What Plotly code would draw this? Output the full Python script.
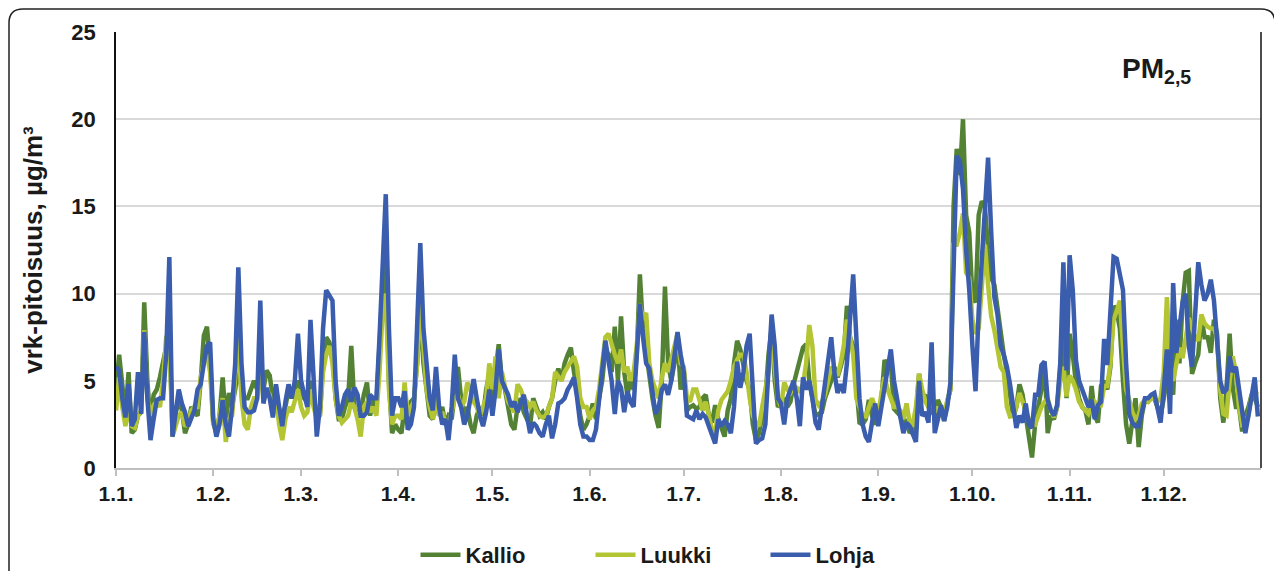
import pandas as pd
import plotly.graph_objects as go

# ---- data (daily PM2.5, µg/m3) ----
kallio_jan = [4.5, 6.5, 4.8, 3.0, 5.5, 2.0, 2.2, 3.0, 3.2, 9.5, 5.0, 2.5, 4.2, 4.5, 5.2, 6.0, 6.8, 7.8, 2.2, 3.0, 4.0, 3.3, 2.0, 2.5, 3.5, 3.2, 3.0, 5.0, 7.6, 8.1, 6.0]
kallio_feb = [2.6, 2.0, 3.0, 5.2, 2.7, 4.3, 3.5, 4.5, 6.0, 4.5, 4.0, 4.0, 4.5, 5.0, 4.5, 5.5, 4.5, 5.6, 5.3, 4.0, 4.6, 3.0, 3.2, 3.5, 4.5, 4.0, 4.5, 5.0]
kallio_mar = [4.5, 4.0, 3.8, 5.0, 4.0, 3.2, 3.0, 6.0, 7.5, 7.2, 6.5, 4.0, 2.8, 2.8, 3.5, 4.0, 7.0, 3.5, 3.0, 3.2, 4.2, 4.9, 3.0, 4.0, 3.5, 6.5, 10.5, 12.0, 5.0, 2.0, 2.5]
kallio_apr = [2.2, 2.0, 3.5, 2.5, 3.8, 4.0, 6.0, 9.0, 6.0, 4.5, 3.0, 2.8, 4.0, 3.0, 3.5, 2.5, 3.0, 2.8, 4.5, 5.8, 4.0, 3.0, 3.5, 2.5, 2.0, 3.0, 3.5, 3.0, 4.5, 5.4]
kallio_may = [4.0, 5.5, 7.1, 5.0, 4.5, 3.5, 2.5, 2.2, 3.5, 4.0, 3.2, 2.8, 2.4, 4.0, 3.5, 3.0, 3.2, 2.8, 3.5, 4.0, 5.0, 5.7, 5.0, 6.0, 6.5, 6.9, 5.5, 4.5, 3.0, 2.2, 2.5]
kallio_jun = [3.0, 3.7, 2.8, 4.0, 5.0, 6.8, 6.5, 5.5, 8.1, 5.0, 8.7, 5.5, 4.2, 5.0, 4.5, 6.5, 11.1, 8.0, 6.5, 5.5, 4.0, 3.0, 2.3, 5.0, 10.4, 6.0, 5.0, 6.0, 7.5, 4.5]
kallio_jul = [5.5, 3.3, 3.5, 3.6, 3.4, 3.5, 4.0, 4.2, 3.0, 2.6, 3.6, 2.8, 2.2, 1.8, 3.3, 4.0, 6.0, 7.3, 6.8, 6.0, 5.0, 4.5, 2.5, 1.6, 2.0, 3.0, 4.0, 6.5, 8.0, 5.0, 3.5]
kallio_aug = [3.7, 4.0, 3.5, 3.8, 4.8, 5.5, 6.0, 6.9, 7.1, 5.0, 4.0, 3.0, 3.1, 3.2, 4.0, 4.5, 5.0, 5.8, 5.2, 5.8, 6.5, 9.3, 7.5, 7.0, 4.5, 2.6, 2.5, 2.8, 3.9, 3.0, 2.5]
kallio_sep = [3.0, 3.9, 6.2, 5.8, 6.0, 3.4, 3.2, 3.0, 2.4, 2.8, 2.0, 2.2, 3.0, 5.4, 4.0, 4.2, 3.5, 3.2, 3.0, 3.9, 3.5, 2.7, 3.8, 4.5, 15.0, 18.3, 16.8, 20.0, 14.5, 13.5]
kallio_oct = [9.8, 9.5, 14.5, 15.3, 15.0, 12.5, 10.9, 10.5, 9.0, 8.0, 6.5, 5.5, 4.0, 2.9, 3.5, 4.8, 4.2, 3.0, 2.0, 0.6, 2.5, 3.5, 4.5, 6.1, 2.0, 3.0, 2.8, 3.5, 6.0, 7.7, 4.0]
kallio_nov = [7.7, 6.5, 4.9, 4.0, 3.5, 3.3, 2.5, 4.7, 3.0, 2.6, 4.7, 5.0, 4.5, 5.8, 9.3, 9.0, 8.0, 5.0, 2.5, 1.4, 2.5, 4.0, 1.2, 3.0, 3.9, 3.8, 4.0, 4.0, 3.5, 3.0]
kallio_dec = [4.0, 5.1, 5.0, 4.2, 8.5, 6.0, 9.5, 11.2, 11.3, 5.4, 6.0, 6.5, 8.7, 7.5, 7.5, 6.6, 8.5, 7.7, 4.0, 2.6, 4.5, 7.7, 4.6, 3.5, 3.5, 2.1, 3.0, 3.5, 4.2, 4.0, 3.5]

luukki_jan = [3.3, 5.2, 3.5, 2.4, 3.5, 2.4, 2.3, 3.0, 3.3, 7.9, 4.0, 3.0, 3.6, 3.8, 3.5, 5.0, 7.5, 7.7, 1.8, 2.5, 3.0, 3.2, 2.4, 2.6, 3.3, 3.5, 3.5, 5.2, 6.0, 6.5, 5.5]
luukki_feb = [2.5, 2.2, 3.0, 4.0, 1.5, 2.8, 3.0, 5.0, 7.5, 4.0, 2.5, 2.2, 3.5, 4.0, 4.0, 6.0, 3.8, 4.5, 4.2, 3.0, 4.0, 2.5, 1.6, 2.8, 3.5, 3.2, 3.8, 4.5]
luukki_mar = [3.5, 3.0, 3.2, 4.5, 3.5, 2.8, 3.0, 5.5, 6.5, 7.0, 6.0, 4.0, 3.0, 2.6, 2.8, 3.0, 3.8, 3.5, 2.8, 1.8, 3.5, 3.8, 3.2, 3.5, 3.0, 5.5, 9.0, 10.0, 4.5, 2.5, 3.0]
luukki_apr = [3.0, 2.8, 4.9, 3.0, 3.5, 3.8, 6.0, 9.5, 6.5, 4.5, 3.5, 2.8, 4.0, 3.0, 3.2, 2.6, 2.5, 3.2, 4.0, 4.2, 3.5, 3.8, 4.9, 4.5, 3.8, 3.5, 3.0, 3.5, 4.0, 6.0]
luukki_may = [4.5, 6.4, 4.0, 5.5, 4.5, 3.8, 3.5, 3.2, 4.8, 4.5, 4.0, 3.8, 3.5, 3.8, 3.3, 3.0, 2.9, 3.0, 3.5, 4.0, 5.5, 5.2, 5.0, 5.5, 5.8, 6.0, 6.4, 5.8, 4.0, 3.5, 3.5]
luukki_jun = [2.8, 3.3, 3.5, 4.5, 6.0, 7.5, 7.7, 7.0, 6.5, 6.0, 6.8, 5.5, 5.8, 5.0, 5.5, 7.0, 9.4, 8.5, 8.9, 6.0, 5.0, 4.5, 4.0, 5.2, 6.0, 5.5, 6.2, 7.0, 7.7, 6.0]
luukki_jul = [5.8, 4.0, 3.8, 4.5, 4.5, 3.9, 3.3, 3.8, 3.0, 2.2, 2.0, 3.3, 3.9, 4.2, 4.4, 5.0, 5.8, 6.2, 6.5, 6.5, 5.5, 4.0, 3.0, 2.6, 2.4, 3.5, 4.5, 5.5, 7.5, 5.5, 4.0]
luukki_aug = [3.5, 4.9, 4.5, 4.3, 4.6, 4.6, 4.4, 4.8, 6.0, 8.2, 7.0, 3.9, 3.6, 3.8, 4.2, 5.0, 5.8, 5.5, 5.3, 6.0, 7.0, 8.5, 7.5, 6.5, 4.0, 3.5, 3.0, 2.95, 3.5, 4.0, 3.5]
luukki_sep = [3.0, 4.3, 5.2, 4.5, 4.0, 3.5, 3.5, 3.3, 2.8, 3.7, 2.6, 2.5, 3.5, 5.4, 4.5, 3.8, 3.5, 4.0, 3.2, 3.5, 3.0, 2.95, 3.9, 4.5, 12.8, 12.8, 13.5, 14.6, 11.2, 10.9]
luukki_oct = [8.5, 7.7, 8.0, 10.8, 12.8, 10.5, 8.7, 7.9, 7.0, 5.8, 5.5, 3.5, 2.95, 3.0, 3.5, 4.3, 3.8, 3.2, 2.8, 2.6, 2.5, 3.0, 3.5, 3.8, 4.0, 3.3, 2.9, 3.5, 5.0, 5.8, 4.1]
luukki_nov = [5.3, 5.0, 4.5, 3.8, 3.5, 3.3, 3.1, 3.5, 3.8, 3.6, 3.6, 4.7, 4.7, 6.0, 8.5, 9.0, 9.6, 7.0, 4.5, 3.9, 3.2, 2.8, 3.0, 3.7, 3.9, 3.8, 4.0, 4.0, 3.8, 4.0]
luukki_dec = [5.5, 9.8, 6.0, 5.0, 6.0, 6.9, 6.3, 7.5, 8.6, 8.0, 7.5, 7.3, 8.8, 8.3, 8.1, 8.0, 8.0, 7.5, 4.5, 3.1, 3.0, 5.0, 6.4, 5.5, 3.5, 2.5, 2.6, 3.0, 4.2, 4.3, 4.4]

lohja_jan = [5.8, 5.6, 4.0, 2.9, 4.8, 2.4, 2.8, 5.5, 3.1, 7.8, 4.0, 1.6, 2.8, 3.9, 4.0, 4.0, 6.5, 12.1, 1.8, 3.0, 4.5, 3.7, 3.2, 2.4, 2.8, 3.3, 4.5, 4.8, 6.0, 7.0, 7.2]
lohja_feb = [2.8, 1.8, 2.5, 3.9, 2.5, 1.8, 3.5, 6.0, 11.5, 6.0, 3.5, 3.2, 3.2, 3.3, 4.0, 9.6, 3.7, 4.6, 4.0, 2.9, 4.8, 3.5, 2.4, 3.8, 4.8, 4.0, 5.0, 7.7]
lohja_mar = [5.0, 4.2, 3.5, 8.5, 4.5, 1.8, 3.5, 8.0, 10.2, 9.9, 9.6, 5.0, 3.0, 3.5, 4.2, 4.5, 3.8, 4.6, 4.2, 3.0, 3.0, 3.2, 4.2, 4.0, 4.0, 7.5, 11.5, 15.7, 8.0, 3.0, 4.0]
lohja_apr = [4.0, 3.5, 4.4, 2.2, 2.5, 3.5, 8.0, 12.9, 8.0, 5.8, 4.0, 3.3, 5.8, 3.5, 2.5, 2.8, 1.6, 3.5, 6.5, 4.0, 3.5, 2.5, 3.0, 4.0, 5.1, 4.0, 3.0, 2.4, 3.2, 4.5]
lohja_may = [3.0, 4.5, 6.8, 5.0, 4.6, 4.2, 3.5, 3.8, 3.2, 3.8, 4.2, 3.0, 2.0, 2.6, 2.4, 2.0, 1.8, 2.5, 3.0, 1.7, 2.5, 3.7, 3.8, 4.0, 4.5, 4.8, 5.2, 4.0, 2.5, 1.8, 1.8]
lohja_jun = [1.6, 1.6, 2.2, 3.7, 5.6, 7.3, 6.0, 5.0, 3.1, 5.0, 4.6, 3.2, 4.4, 3.8, 3.5, 6.5, 9.4, 7.5, 6.0, 5.7, 4.5, 3.1, 3.5, 4.5, 4.8, 4.2, 5.0, 6.5, 7.8, 6.5]
lohja_jul = [5.5, 3.0, 2.9, 2.8, 3.3, 2.8, 3.1, 2.9, 2.4, 1.8, 1.4, 2.8, 2.4, 2.7, 2.5, 2.0, 3.5, 6.1, 4.6, 5.5, 7.0, 7.7, 4.5, 1.4, 1.6, 1.7, 2.5, 6.0, 8.8, 7.0, 4.0]
lohja_aug = [3.7, 2.5, 4.0, 4.5, 5.0, 4.0, 2.4, 5.2, 4.5, 5.0, 4.0, 2.6, 2.2, 3.5, 5.0, 6.5, 7.5, 5.5, 4.3, 4.8, 4.3, 6.0, 9.0, 11.1, 7.5, 4.0, 2.5, 1.8, 1.5, 2.8, 3.7]
lohja_sep = [2.4, 3.5, 4.7, 5.5, 6.8, 5.0, 3.8, 2.95, 2.0, 2.6, 2.4, 2.0, 1.5, 5.0, 3.0, 3.2, 2.6, 7.2, 2.0, 2.8, 3.6, 2.7, 3.5, 4.9, 11.0, 17.9, 17.6, 16.0, 12.5, 10.2]
lohja_oct = [7.0, 4.4, 9.0, 12.0, 14.4, 17.8, 13.5, 9.8, 8.8, 7.0, 6.5, 5.8, 4.8, 3.5, 2.3, 3.0, 2.6, 3.7, 2.5, 2.3, 4.2, 4.2, 5.9, 6.1, 3.9, 3.3, 3.0, 3.6, 6.0, 11.8, 5.6]
lohja_nov = [12.2, 10.2, 6.2, 5.0, 4.5, 3.9, 3.5, 3.9, 2.8, 3.6, 3.8, 7.4, 5.9, 9.0, 12.1, 12.0, 11.0, 10.2, 6.0, 3.1, 2.6, 2.4, 2.4, 3.2, 4.0, 4.0, 4.2, 4.3, 3.5, 2.6]
lohja_dec = [4.5, 6.8, 3.1, 10.6, 6.6, 8.0, 9.5, 10.0, 7.0, 5.8, 9.0, 11.8, 10.5, 9.6, 10.0, 10.8, 9.6, 7.0, 5.0, 4.3, 4.5, 6.4, 5.5, 5.8, 4.5, 3.1, 2.0, 3.0, 4.0, 5.2, 2.95]

tick_text = ["1.1.", "1.2.", "1.3.", "1.4.", "1.5.", "1.6.", "1.7.", "1.8.", "1.9.", "1.10.", "1.11.", "1.12."]
series_names = ["Kallio", "Luukki", "Lohja"]
series_colors = ["#548235", "#B4C534", "#3A5DAE"]

kallio = (kallio_jan + kallio_feb + kallio_mar + kallio_apr + kallio_may + kallio_jun +
          kallio_jul + kallio_aug + kallio_sep + kallio_oct + kallio_nov + kallio_dec)
luukki = (luukki_jan + luukki_feb + luukki_mar + luukki_apr + luukki_may + luukki_jun +
          luukki_jul + luukki_aug + luukki_sep + luukki_oct + luukki_nov + luukki_dec)
lohja = (lohja_jan + lohja_feb + lohja_mar + lohja_apr + lohja_may + lohja_jun +
         lohja_jul + lohja_aug + lohja_sep + lohja_oct + lohja_nov + lohja_dec)

FONT = "Liberation Sans, Arial, sans-serif"
TXT = "#1a1a1a"

fig = go.Figure()
for name, vals, col in zip(series_names, [kallio, luukki, lohja], series_colors):
    dates = pd.date_range("2023-01-01", periods=len(vals), freq="D")
    fig.add_trace(go.Scatter(x=dates, y=vals, mode="lines", name=name,
                             line=dict(color=col, width=4.5)))

month_starts = pd.date_range("2023-01-01", periods=12, freq="MS")

# page body has an 8px margin, so the figure is offset on screen
OFF = 8
SCR_W, SCR_H = 1282, 571
W, H = SCR_W - OFF, SCR_H - OFF
PL, PR, PT, PB = 116, 1261, 32, 468          # plot area in screen pixels
L, T = PL - OFF, PT - OFF
R, B = (OFF + W) - PR, (OFF + H) - PB
pw, ph = PR - PL, PB - PT

def px(x):
    return (x - PL) / pw

def py(y):
    return (PB - y) / ph

# rounded outer frame (screen coords)
fx0, fx1, fy0, fy1 = px(9), px(1275), py(600), py(9)
rx, ry = 14 / pw, 14 / ph
path = (f"M {fx0+rx},{fy1} L {fx1-rx},{fy1} Q {fx1},{fy1} {fx1},{fy1-ry} "
        f"L {fx1},{fy0+ry} Q {fx1},{fy0} {fx1-rx},{fy0} L {fx0+rx},{fy0} "
        f"Q {fx0},{fy0} {fx0},{fy0+ry} L {fx0},{fy1-ry} Q {fx0},{fy1} {fx0+rx},{fy1} Z")

fig.update_layout(
    width=W, height=H,
    margin=dict(l=L, r=R, t=T, b=B, autoexpand=False),
    paper_bgcolor="white", plot_bgcolor="white",
    font=dict(family=FONT, color=TXT),
    showlegend=True,
    legend=dict(orientation="h", x=px(678), xanchor="center", y=py(555), yanchor="middle",
                font=dict(family=FONT, size=22, color=TXT, weight="bold"),
                entrywidth=120, itemwidth=40, bgcolor="rgba(0,0,0,0)"),
    shapes=[
        dict(type="path", xref="paper", yref="paper", path=path,
             line=dict(color="#222222", width=1.5), layer="below"),
        dict(type="line", xref="paper", yref="paper", x0=1, x1=1, y0=0, y1=1,
             line=dict(color="#111111", width=1.5)),
    ],
    annotations=[
        dict(text="<b>PM<sub>2,5</sub></b>", xref="paper", yref="paper",
             x=px(1156), y=py(70), xanchor="center", yanchor="middle",
             showarrow=False, font=dict(family=FONT, size=28, color=TXT)),
    ],
)

fig.update_xaxes(
    type="date", range=["2023-01-01", "2024-01-01"],
    tickvals=month_starts, ticktext=tick_text,
    ticks="outside", ticklen=6, tickcolor="#BFBFBF", tickwidth=1.5,
    showgrid=False, showline=True, linecolor="#BFBFBF", linewidth=1.5,
    tickfont=dict(family=FONT, size=21, color=TXT, weight="bold"),
    zeroline=False, automargin=False,
)
fig.update_yaxes(
    range=[0, 25], tickvals=[0, 5, 10, 15, 20, 25],
    showgrid=True, gridcolor="#D9D9D9", gridwidth=1.5,
    showline=True, linecolor="#111111", linewidth=1.5,
    ticks="", zeroline=False, automargin=False, ticklabelstandoff=14,
    tickfont=dict(family=FONT, size=22, color=TXT, weight="bold"),
    title=dict(text="<b>vrk-pitoisuus, µg/m³</b>", standoff=21,
               font=dict(family=FONT, size=26, color=TXT)),
)

fig.write_html("out.html")
